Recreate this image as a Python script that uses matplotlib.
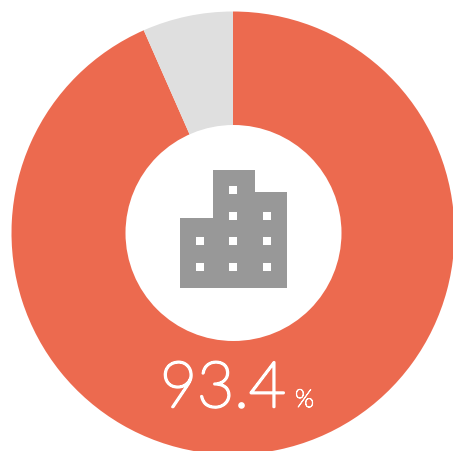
import matplotlib
matplotlib.use("Agg")
import matplotlib.pyplot as plt
import matplotlib.patheffects as pe
from matplotlib.patches import Circle, Polygon, Rectangle

W, H = 453, 452

# Donut values
labels = ["Yes", "No"]
shares = [93.4, 6.6]
colors = ["#ec6a4f", "#dfdfdf"]
value_label = "93.4"
unit_label = "%"

# Building icon outline and window centres, in picture pixels
building_x = [180, 180, 213, 213, 255, 255, 287, 287]
building_y = [288, 218, 218, 170, 170, 192, 192, 288]
window_x = [233, 233, 267, 200, 233, 267, 200, 233, 267]
window_y = [190, 216, 216, 241, 241, 241, 267, 267, 267]


def main():
    fig = plt.figure(figsize=(W / 100, H / 100), dpi=100)
    ax = fig.add_axes([0, 0, 1, 1])

    # pie resets the limits and aspect, so set them afterwards
    ax.pie(shares, colors=colors, startangle=90, counterclock=False,
           center=(233, H - 233), radius=221.5, frame=True,
           wedgeprops={"linewidth": 0})
    ax.set_xlim(0, W)
    ax.set_ylim(1, H + 1)
    ax.set_aspect("auto")
    ax.axis("off")
    ax.add_patch(Circle((233.5, H - 233), 108, fc="white", ec="none", zorder=3))

    # Building icon
    outline = [(x, H - y) for x, y in zip(building_x, building_y)]
    ax.add_patch(Polygon(outline, closed=True, fc="#989898", ec="none", zorder=4))
    for x, y in zip(window_x, window_y):
        ax.add_patch(Rectangle((x - 4, H - y - 4), 8, 8, fc="white", ec="none", zorder=5))

    # Installed Lato light is a hairline, thicken it with a stroke
    ax.text(160, H - 407, value_label, color="white", fontsize=46, fontfamily="Lato",
            fontweight="light", ha="left", va="baseline", zorder=5,
            path_effects=[pe.withStroke(linewidth=1.8, foreground="white")])
    ax.text(295, H - 407, unit_label, color="white", fontsize=18, fontfamily="Lato",
            fontweight="light", ha="left", va="baseline", zorder=5,
            path_effects=[pe.withStroke(linewidth=0.7, foreground="white")])

    fig.savefig("out.png", dpi=100, facecolor="white")


if __name__ == "__main__":
    main()
